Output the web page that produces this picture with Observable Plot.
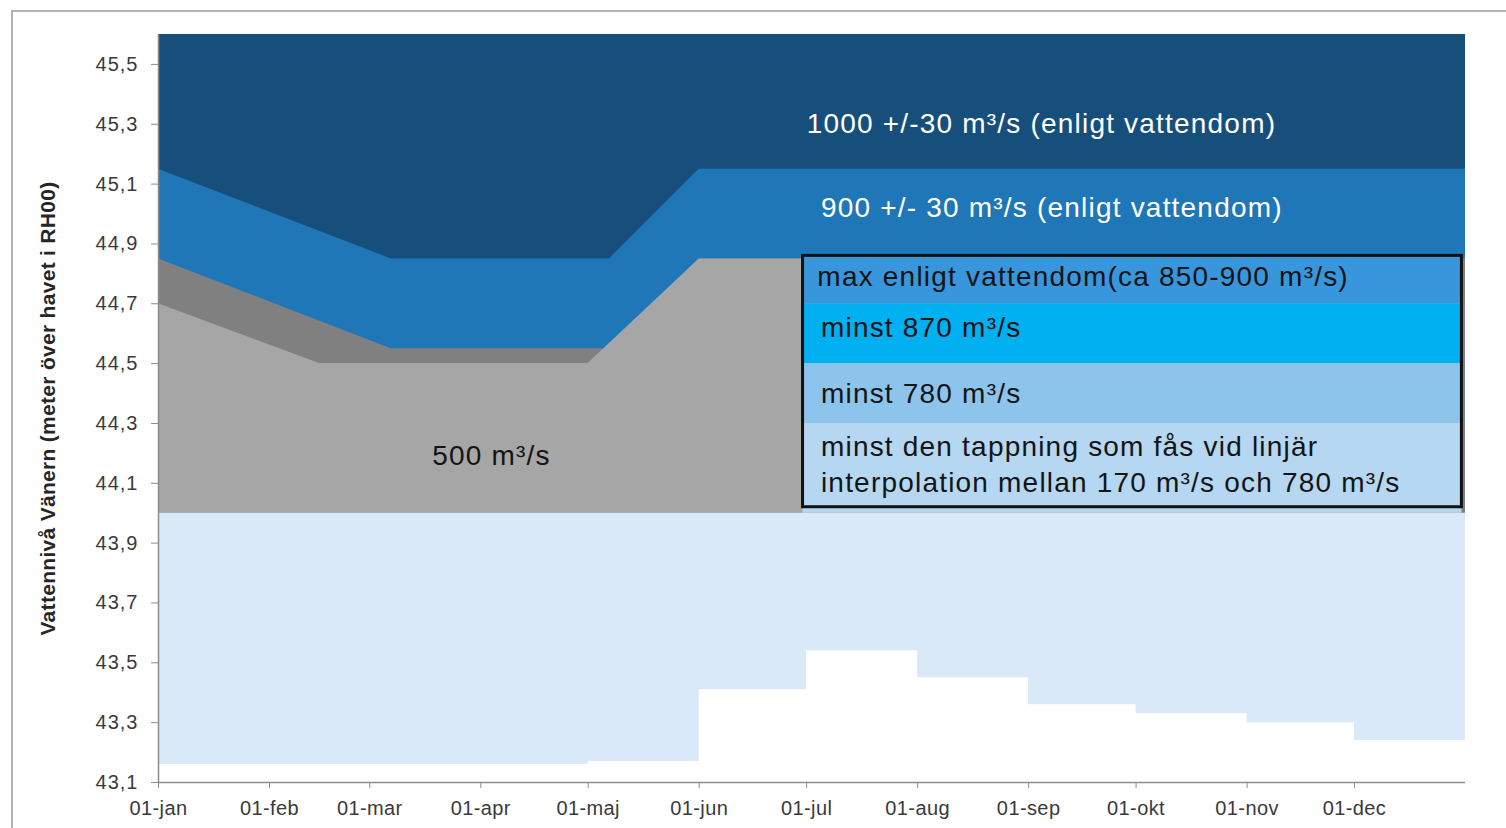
<!DOCTYPE html>
<html><head><meta charset="utf-8">
<script src="https://cdn.jsdelivr.net/npm/d3@7"></script>
<script src="https://cdn.jsdelivr.net/npm/@observablehq/plot@0.6"></script>
<style>
html,body{margin:0;padding:0;background:#fff;overflow:hidden;width:1506px;height:828px}
#frame{position:absolute;left:11px;top:10px;width:1540px;height:860px;border-left:2px solid #b4b4b4;border-top:2px solid #b4b4b4;box-sizing:border-box}
#chart{position:absolute;left:0;top:0}
g[aria-label="y-axis tick label"] text{letter-spacing:1px}
g[aria-label="x-axis tick label"] text{letter-spacing:0.4px}
</style></head><body><div id="frame"></div><div id="chart"></div>
<script>
// ---- data ----
const yTicks = [43.1, 43.3, 43.5, 43.7, 43.9, 44.1, 44.3, 44.5, 44.7, 44.9, 45.1, 45.3, 45.5];
const monthStarts = ["2015-01-01","2015-02-01","2015-03-01","2015-04-01","2015-05-01","2015-06-01","2015-07-01","2015-08-01","2015-09-01","2015-10-01","2015-11-01","2015-12-01"];
const monthLabels = ["01-jan","01-feb","01-mar","01-apr","01-maj","01-jun","01-jul","01-aug","01-sep","01-okt","01-nov","01-dec"];
const yearSpan = ["2015-01-01", "2016-01-01"];
const yDomain = [43.1, 45.6];
const baseLevel = 44.0;

// lower limit (step) of light-blue zone
const stepDates = ["2015-01-01","2015-05-01","2015-06-01","2015-07-01","2015-08-01","2015-09-01","2015-10-01","2015-11-01","2015-12-01","2016-01-01"];
const stepLevels = [43.16, 43.17, 43.41, 43.54, 43.45, 43.36, 43.33, 43.30, 43.24, 43.24];

// 500 m3/s zone top (light grey)
const greyDates = ["2015-01-01","2015-02-15","2015-05-01","2015-06-01","2015-12-31"];
const greyLevels = [44.70, 44.50, 44.50, 44.85, 44.85];

// dark grey zone top (= 900 zone bottom)
const darkGreyDates = ["2015-01-01","2015-03-07","2015-05-06","2015-06-01","2016-01-01"];
const darkGreyLevels = [44.85, 44.55, 44.55, 44.85, 44.85];

// 900 +/- 30 zone top
const midBlueDates = ["2015-01-01","2015-03-07","2015-05-07","2015-06-01","2016-01-01"];
const midBlueLevels = [45.15, 44.85, 44.85, 45.15, 45.15];

// 1000 +/- 30 zone top
const topDates = ["2015-01-01","2016-01-01"];
const topLevels = [45.6, 45.6];

// legend-box bands (second half of year)
const bandNames = ["max enligt vattendom", "minst 870", "minst 780", "interpolation"];
const bandStart = "2015-06-30";
const bandEnd = "2015-12-31";
const bandLow = [44.70, 44.50, 44.30, 44.00];
const bandHigh = [44.86, 44.70, 44.50, 44.30];
const boxLow = 44.02, boxHigh = 44.86;

// annotations
const whiteTexts = ["1000 +/-30 m³/s (enligt vattendom)", "900 +/- 30 m³/s (enligt vattendom)"];
const whiteDates = ["2015-07-01", "2015-07-05"];
const whiteLevels = [45.30, 45.02];
const boxTexts = ["max enligt vattendom(ca 850-900 m³/s)", "minst 870 m³/s", "minst 780 m³/s", "minst den tappning som fås vid linjär", "interpolation mellan 170 m³/s och 780 m³/s"];
const boxDates = ["2015-07-04", "2015-07-05", "2015-07-05", "2015-07-05", "2015-07-05"];
const boxLevels = [44.79, 44.62, 44.40, 44.22, 44.10];
const greyText = ["500 m³/s"];
const greyTextDate = ["2015-04-04"];
const greyTextLevel = [44.19];
const yLabel = "Vattennivå Vänern (meter över havet i RH00)";

// ---- build ----
const parse = d3.utcParse("%Y-%m-%d");
const rows = (dates, levels) => dates.map((d, i) => ({date: parse(d), level: levels[i]}));
const bandColors = ["#3896dc", "#00b0f0", "#8dc4eb", "#b5d7f1"];
const bands = bandNames.map((n, i) => ({name: n, x1: parse(bandStart), x2: parse(bandEnd), y1: bandLow[i], y2: bandHigh[i], fill: bandColors[i]}));
const x0 = parse(yearSpan[0]), xEnd = parse(yearSpan[1]);
const labelRows = (texts, dates, levels) => texts.map((t, i) => ({text: t, date: parse(dates[i]), level: levels[i]}));
const axisGrey = "#8c8c8c";
const font = "'Liberation Sans', Arial, sans-serif";

const chart = Plot.plot({
  width: 1506,
  height: 828,
  marginLeft: 158,
  marginRight: 41,
  marginTop: 34,
  marginBottom: 46,
  style: {fontFamily: font, fontSize: "20px", color: "#3a3a3a", background: "transparent"},
  x: {type: "utc", domain: [x0, xEnd]},
  y: {domain: yDomain},
  marks: [
    Plot.areaY(rows(topDates, topLevels), {x: "date", y1: () => baseLevel, y2: "level", fill: "#174f7c"}),
    Plot.areaY(rows(midBlueDates, midBlueLevels), {x: "date", y1: () => baseLevel, y2: "level", fill: "#1f77b7"}),
    Plot.areaY(rows(darkGreyDates, darkGreyLevels), {x: "date", y1: () => baseLevel, y2: "level", fill: "#808080"}),
    Plot.areaY(rows(greyDates, greyLevels), {x: "date", y1: () => baseLevel, y2: "level", fill: "#a6a6a6"}),
    Plot.areaY(rows(stepDates, stepLevels), {x: "date", y1: "level", y2: () => baseLevel, curve: "step-after", fill: "#d9e9f7"}),
    Plot.rect(bands, {x1: "x1", x2: "x2", y1: "y1", y2: "y2", fill: "fill"}),
    Plot.rect([{x1: parse(bandStart), x2: parse(bandEnd), y1: boxLow, y2: boxHigh}], {x1: "x1", x2: "x2", y1: "y1", y2: "y2", fill: "none", stroke: "#111", strokeWidth: 3}),
    Plot.text(labelRows(whiteTexts, whiteDates, whiteLevels), {x: "date", y: "level", text: "text", textAnchor: "start", lineAnchor: "middle", fill: "white", fontSize: 28}),
    Plot.text(labelRows(boxTexts, boxDates, boxLevels), {x: "date", y: "level", text: "text", textAnchor: "start", lineAnchor: "middle", fill: "#141414", fontSize: 28}),
    Plot.text(labelRows(greyText, greyTextDate, greyTextLevel), {x: "date", y: "level", text: "text", textAnchor: "middle", lineAnchor: "middle", fill: "#141414", fontSize: 28}),
    Plot.ruleX([x0], {y1: yDomain[0], y2: yDomain[1], stroke: axisGrey, strokeWidth: 1.5}),
    Plot.ruleY([yDomain[0]], {x1: x0, x2: xEnd, stroke: axisGrey, strokeWidth: 1.5}),
    Plot.axisY({ticks: yTicks, tickFormat: d => d.toFixed(1).replace(".", ","), tickSize: 7, tickPadding: 13, stroke: axisGrey, label: null, fontSize: 20}),
    Plot.axisX({ticks: monthStarts.map(parse), tickFormat: d => monthLabels[d.getUTCMonth()], tickSize: 6, tickPadding: 12, stroke: axisGrey, label: null, fontSize: 20}),
    Plot.text([yLabel], {text: d => d, frameAnchor: "left", textAnchor: "middle", lineAnchor: "middle", dx: -110, rotate: -90, fontWeight: "bold", fontSize: 21, fill: "#262626"})
  ]
});
document.getElementById("chart").appendChild(chart);

// widen annotation lettering to match the reference's letter widths
const annotationSet = new Set([...whiteTexts, ...boxTexts, ...greyText]);
d3.select(chart).selectAll("text")
  .filter(function() { return annotationSet.has(this.textContent); })
  .style("letter-spacing", "1.2px");
d3.select(chart).selectAll("text")
  .filter(function() { return this.textContent === yLabel; })
  .style("letter-spacing", "0.3px");
</script></body></html>
